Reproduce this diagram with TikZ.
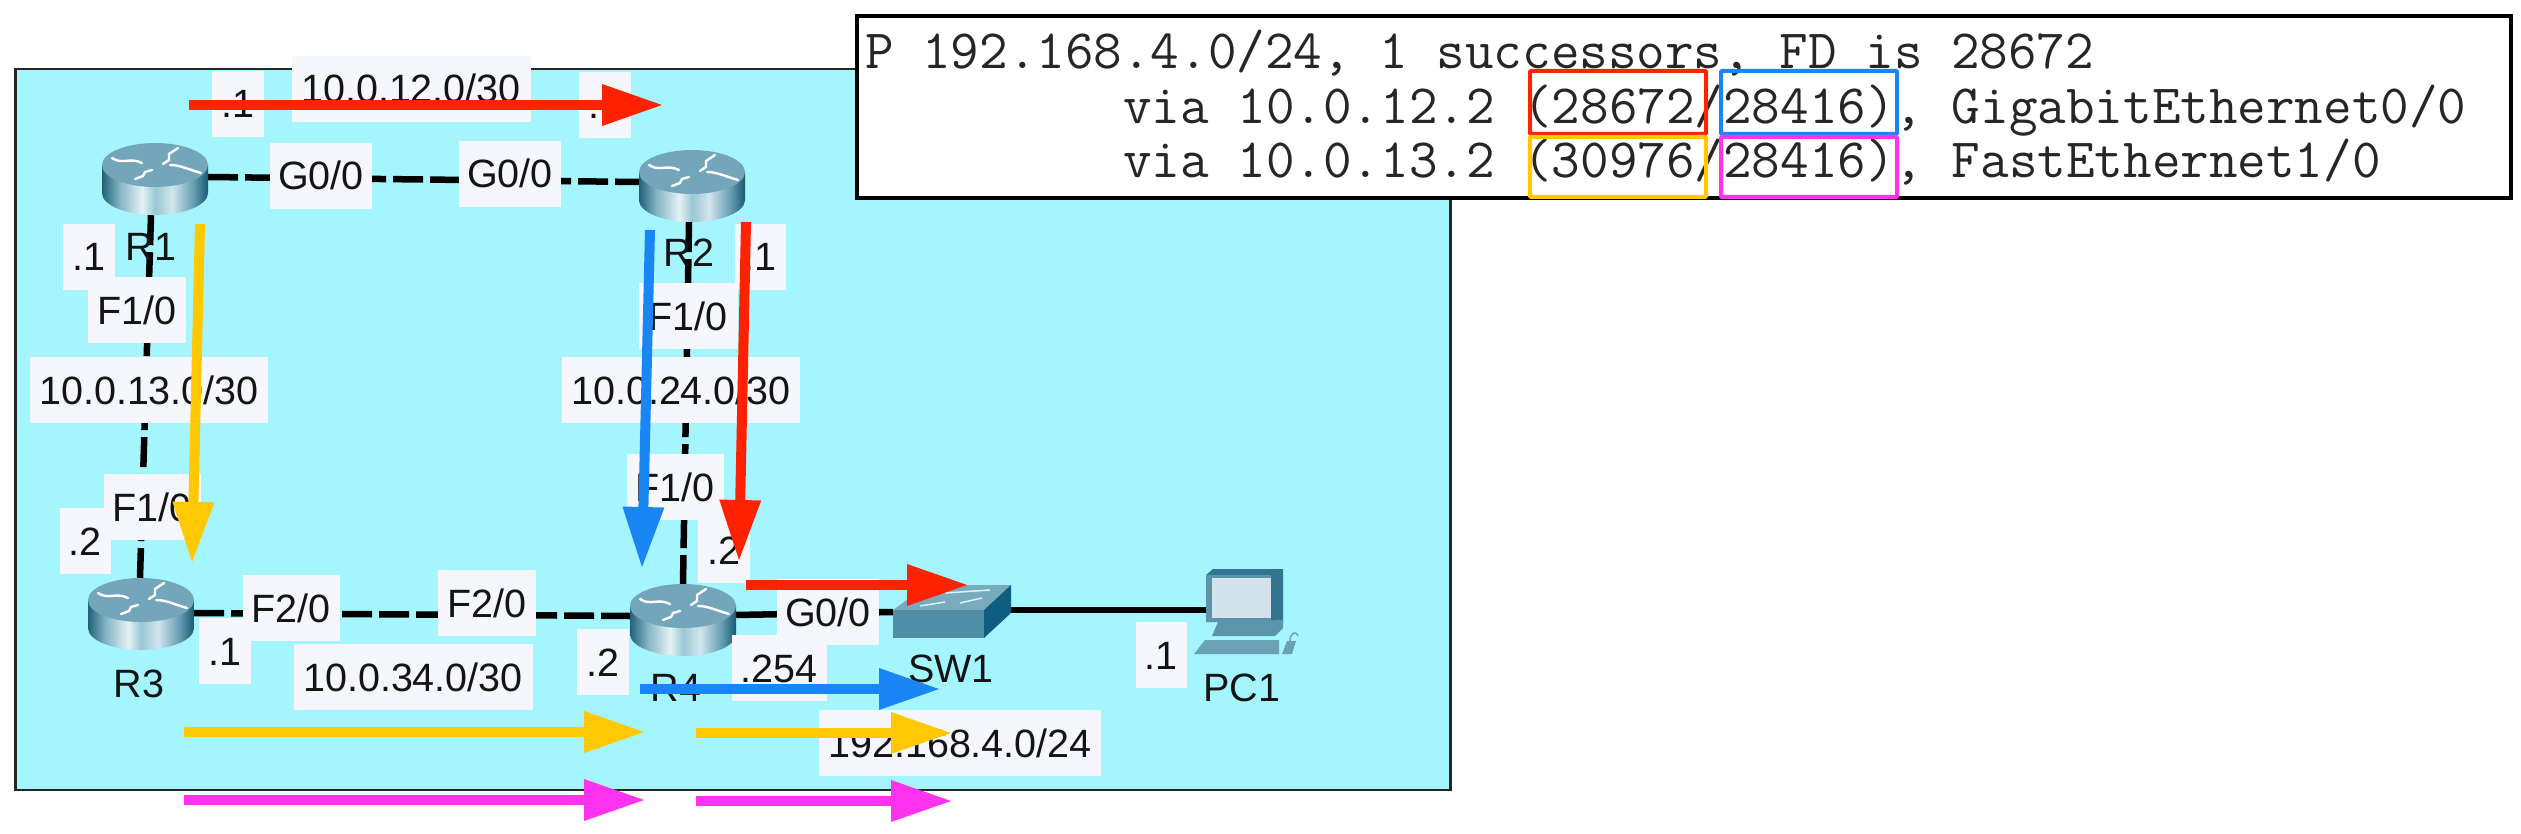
\documentclass[tikz,border=0pt]{standalone}
\usepackage{fontspec}
\setmainfont{Liberation Sans}
\usetikzlibrary{arrows.meta}
\definecolor{panelc}{HTML}{A5F5FF}
\definecolor{boxc}{HTML}{F5F7FD}
\definecolor{arred}{HTML}{FF2200}
\definecolor{arblue}{HTML}{1A86F5}
\definecolor{aryel}{HTML}{FFC800}
\definecolor{armag}{HTML}{FF33EE}
\definecolor{inkc}{HTML}{141414}
\definecolor{rba}{rgb}{0.13,0.38,0.47}
\definecolor{rbb}{rgb}{0.50,0.70,0.76}
\definecolor{rbc}{rgb}{0.90,0.95,0.96}
\definecolor{rbd}{rgb}{0.60,0.78,0.83}
\definecolor{rbe}{rgb}{0.82,0.90,0.93}
\definecolor{rbf}{rgb}{0.40,0.62,0.70}
\definecolor{rbg}{rgb}{0.10,0.35,0.45}
\definecolor{rtop}{rgb}{0.45,0.65,0.73}
\definecolor{swtop}{rgb}{0.47,0.67,0.74}
\definecolor{swfront}{rgb}{0.31,0.56,0.66}
\definecolor{swside}{rgb}{0.05,0.37,0.50}
\definecolor{pcdark}{rgb}{0.20,0.46,0.57}
\definecolor{pcmid}{rgb}{0.36,0.58,0.67}
\definecolor{pcscreen}{rgb}{0.83,0.89,0.92}
\definecolor{pclight}{rgb}{0.42,0.63,0.71}
\pgfdeclarehorizontalshading{routerbody}{100bp}{
  color(0bp)=(rba);
  color(25bp)=(rba);
  color(33bp)=(rbb);
  color(44bp)=(rbc);
  color(50bp)=(rbd);
  color(58bp)=(rbe);
  color(68bp)=(rbf);
  color(75bp)=(rbg);
  color(100bp)=(rbg)}
\tikzset{
  x=1pt,y=-1pt,
  every node/.style={font=\fontsize{39.5}{39.5}\selectfont,text=inkc,inner sep=0pt,text height=28pt,text depth=0pt},
  lbl/.style={fill=boxc,minimum height=66pt},
  link/.style={line width=6.5pt,black,dash pattern=on 30pt off 7pt},
  solidlink/.style={line width=6.5pt,black},
  devbox/.style={minimum width=106pt,minimum height=72pt},
  flow/.style={line width=10pt,-{Triangle[length=60pt,width=42pt,line width=0pt]}},
  hl/.style={draw=#1,line width=4pt,fill=none,rounded corners=1pt},
  cli/.style={font=\ttfamily\fontsize{55.5}{55.5}\selectfont,anchor=base west,text height=,text depth=,text=black!85},
}
\newcommand\routerart[1]{%
  \begin{scope}[shift={(#1)}]
    \path[shading=routerbody] (-53,-14) -- (-53,14) arc[x radius=53,y radius=22,start angle=180,end angle=0] -- (53,-14) -- cycle;
    \fill[rtop] (0,-14) ellipse [x radius=53,y radius=22];
    \draw[white,line width=2.4pt,line cap=round] (-43,-21) .. controls (-33,-14) and (-25,-22) .. (-13,-16);
    \draw[white,line width=2.4pt,line cap=round] (8,-15) -- (14,-19) -- (14,-25) -- (23,-31);
    \draw[white,line width=2.4pt,line cap=round] (15,-14) .. controls (25,-14) and (32,-10) .. (46,-6);
    \draw[white,line width=2.4pt,line cap=round] (-20,0) -- (-12,-3) -- (-10,-7) -- (-3,-9);
  \end{scope}}
\begin{document}
\begin{tikzpicture}
\useasboundingbox (0,0) rectangle (2521,834);
\fill[white] (0,0) rectangle (2521,834);
% panel
\node (panel) at (733,429.5) [draw=black!85,line width=2.5pt,fill=panelc,minimum width=1435pt,minimum height=721pt] {};
% devices
\node (r1) at (155,179) [devbox] {};
\node (r2) at (692,186) [devbox] {};
\node (r3) at (141,614) [devbox] {};
\node (r4) at (683,620) [devbox] {};
\node (sw) at (952,611) [minimum width=118pt,minimum height=53pt] {};
\node (pc) at (1245,612) [minimum width=76pt,minimum height=86pt] {};
% links
\draw[link] ([yshift=2pt]r1.east) -- ([yshift=4pt]r2.west);
\draw[link] ([xshift=-4pt]r1.south) -- ([xshift=-1pt]r3.north);
\draw[link] ([xshift=-3pt]r2.south) -- (r4.north);
\draw[link] ([yshift=1pt]r3.east) -- ([yshift=4pt]r4.west);
\draw[solidlink] ([yshift=5pt]r4.east) -- ([yshift=-1pt]sw.west);
\draw[solidlink] (sw.east |- 0,610) -- (pc.west |- 0,610);
% router art
\routerart{r1}\routerart{r2}\routerart{r3}\routerart{r4}
% switch
\fill[swtop] (927,585) -- (1011,585) -- (984,610) -- (893,610) -- cycle;
\fill[swfront] (893,610) rectangle (984,638);
\fill[swside] (984,610) -- (1011,585) -- (1011,613) -- (984,638) -- cycle;
\draw[white!85!cyan,line width=1.5pt] (920,606) -- (945,602) (960,603) -- (982,598) (945,593) -- (990,590);
% pc
\fill[pcdark] (1206,575) -- (1213,569) -- (1283,569) -- (1283,622) -- (1206,622) -- cycle;
\fill[pcmid] (1206,575) -- (1271,575) -- (1271,622) -- (1206,622) -- cycle;
\fill[pcscreen] (1212,578) rectangle (1271,618);
\fill[pcmid] (1218,622) -- (1283,620) -- (1283,628) -- (1275,636) -- (1212,636) -- cycle;
\fill[pclight] (1205,640) -- (1279,640) -- (1279,654) -- (1194,654) -- cycle;
\fill[pclight] (1282,654) -- (1287,641) -- (1296,641) -- (1292,654) -- cycle;
\draw[pclight,line width=1.5pt] (1290,641) .. controls (1290,633) and (1296,630) .. (1298,636);
% plain device labels
\node (lr1) at (151,247) {R1};
\node (lr2) at (689,253) {R2};
\node (lr3) at (139,683) {R3};
\node (lr4) at (676,687) {R4};
\node (lsw) at (951,668) {SW1};
\node (lpc) at (1242,687) {PC1};
% boxed labels
\node (n1) at (411,89) [lbl,minimum width=239pt] {10.0.12.0/30};
\node (a1) at (238,104) [lbl,minimum width=52pt] {.1};
\node (a2) at (605,105) [lbl,minimum width=52pt] {.1};
\node (g1) at (321,176) [lbl,minimum width=102pt] {G0/0};
\node (g2) at (510,174) [lbl,minimum width=102pt] {G0/0};
\node (a3) at (89,257) [lbl,minimum width=52pt] {.1};
\node (f1) at (137,310) [lbl,minimum width=98pt] {F1/0};
\node (n2) at (149,390) [lbl,minimum width=238pt] {10.0.13.0/30};
\node (a4) at (760,257) [lbl,minimum width=51pt] {.1};
\node (f2) at (688,316) [lbl,minimum width=99pt] {F1/0};
\node (n3) at (681,390) [lbl,minimum width=238pt] {10.0.24.0/30};
\node (f3) at (152,507) [lbl,minimum width=97pt] {F1/0};
\node (a5) at (85,541) [lbl,minimum width=51pt] {.2};
\node (f4) at (291,608) [lbl,minimum width=97pt] {F2/0};
\node (f5) at (487,603) [lbl,minimum width=98pt] {F2/0};
\node (a6) at (225,651) [lbl,minimum width=52pt] {.1};
\node (n4) at (413,677) [lbl,minimum width=239pt] {10.0.34.0/30};
\node (a7) at (603,662) [lbl,minimum width=52pt] {.2};
\node (f6) at (675,487) [lbl,minimum width=97pt] {F1/0};
\node (a8) at (724,550) [lbl,minimum width=52pt] {.2};
\node (g3) at (828,612) [lbl,minimum width=102pt] {G0/0};
\node (a9) at (779,668) [lbl,minimum width=95pt] {.254};
\node (a10) at (1161,655) [lbl,minimum width=51pt] {.1};
\node (n5) at (960,743) [lbl,minimum width=282pt] {192.168.4.0/24};
% flow arrows
\coordinate (c1s) at (189,105); \coordinate (c1e) at (662,105);
\coordinate (c2s) at (746,222); \coordinate (c2e) at (739,560);
\coordinate (c3s) at (746,585); \coordinate (c3e) at (967,585);
\coordinate (c4s) at (650,230); \coordinate (c4e) at (642,567);
\coordinate (c5s) at (640,689); \coordinate (c5e) at (939,689);
\coordinate (c6s) at (200,224); \coordinate (c6e) at (192,562);
\coordinate (c7s) at (184,732); \coordinate (c7e) at (644,732);
\coordinate (c8s) at (696,733); \coordinate (c8e) at (951,733);
\coordinate (c9s) at (184,800); \coordinate (c9e) at (644,800);
\coordinate (c10s) at (696,801); \coordinate (c10e) at (951,801);
\draw[flow,arred] (c1s) -- (c1e);
\draw[flow,arred] (c2s) -- (c2e);
\draw[flow,arred] (c3s) -- (c3e);
\draw[flow,arblue] (c4s) -- (c4e);
\draw[flow,arblue] (c5s) -- (c5e);
\draw[flow,aryel] (c6s) -- (c6e);
\draw[flow,aryel] (c7s) -- (c7e);
\draw[flow,aryel] (c8s) -- (c8e);
\draw[flow,armag] (c9s) -- (c9e);
\draw[flow,armag] (c10s) -- (c10e);
% CLI
\node (clibox) at (1684,107) [draw=black,line width=4.5pt,fill=white,minimum width=1654pt,minimum height=182pt] {};
\node (t1) at (865,69) [cli] {P 192.168.4.0/24, 1 successors, FD is 28672};
\node (t2) at (1123,124) [cli] {via 10.0.12.2 (28672/28416), GigabitEthernet0/0};
\node (t3) at (1123,178) [cli] {via 10.0.13.2 (30976/28416), FastEthernet1/0};
\node (h1) at (1618,102.5) [hl=arred,minimum width=176pt,minimum height=63pt] {};
\node (h2) at (1809,102.5) [hl=arblue,minimum width=176pt,minimum height=63pt] {};
\node (h3) at (1618,167) [hl=aryel,minimum width=176pt,minimum height=60pt] {};
\node (h4) at (1809,167) [hl=armag,minimum width=176pt,minimum height=60pt] {};
\end{tikzpicture}
\end{document}
